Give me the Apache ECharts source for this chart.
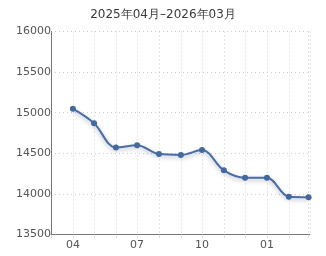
<!DOCTYPE html>
<html><head><meta charset="utf-8">
<script src="https://cdn.jsdelivr.net/npm/echarts@6/dist/echarts.min.js"></script>
<style>html,body{margin:0;padding:0;background:#fff}#c{width:326px;height:256px}</style>
</head><body><div id="c"></div>
<script>
const titleText = '2025年04月–2026年03月';
const months = ['2025-04-01','2025-05-01','2025-06-01','2025-07-01','2025-08-01','2025-09-01','2025-10-01','2025-11-01','2025-12-01','2026-01-01','2026-02-01','2026-03-01'];
const prices = [15050, 14870, 14570, 14600, 14490, 14480, 14540, 14290, 14200, 14200, 13965, 13960];
const labelMonths = [4, 7, 10, 1];
const yTicks = [13500, 14000, 14500, 15000, 15500, 16000];

const chart = echarts.init(document.getElementById('c'), null, {renderer: 'canvas'});
const font = 'DejaVu Sans';
chart.setOption({
  animation: false,
  title: {text: titleText, left: 'center', top: 4, textStyle: {fontFamily: font, fontSize: 12, fontWeight: 'normal', color: '#3a3a3a'}},
  grid: {left: 51, right: 16, top: 31.5, bottom: 21.5, containLabel: false},
  xAxis: {
    type: 'time',
    min: '2025-03-01', max: '2026-03-03',
    splitNumber: 12,
    minInterval: 28 * 86400000,
    maxInterval: 31 * 86400000,
    axisLine: {lineStyle: {color: '#777', width: 1}},
    axisTick: {show: true, length: 4, lineStyle: {color: '#bbb', type: 'dotted'}},
    axisLabel: {
      fontFamily: font, fontSize: 11, color: '#555', margin: 5, hideOverlap: false,
      showMinLabel: false, showMaxLabel: false,
      formatter: function (v) {
        const d = new Date(v);
        const m = d.getMonth() + 1;
        if (d.getDate() !== 1) return '';
        return labelMonths.indexOf(m) >= 0 ? (m < 10 ? '0' + m : '' + m) : '';
      }
    },
    splitLine: {show: true, lineStyle: {color: '#ccc', type: [1, 3]}}
  },
  yAxis: {
    type: 'value', min: yTicks[0], max: yTicks[yTicks.length - 1], interval: 500,
    axisLine: {show: true, lineStyle: {color: '#777', width: 1}},
    axisTick: {show: false},
    axisLabel: {fontFamily: font, fontSize: 11, color: '#555', margin: 0, padding: [0, 0, 6, 0],
      formatter: function (v) { return String(v); }},
    splitLine: {show: true, lineStyle: {color: '#ccc', type: [1, 3]}}
  },
  series: [{
    type: 'line',
    data: months.map((m, i) => [m, prices[i]]),
    smooth: 0.35,
    symbol: 'circle', symbolSize: 6,
    itemStyle: {color: '#44699f'},
    lineStyle: {color: '#4a6ea3', width: 2, shadowColor: 'rgba(30,50,90,0.35)', shadowBlur: 4, shadowOffsetY: 2}
  }]
});
</script></body></html>
